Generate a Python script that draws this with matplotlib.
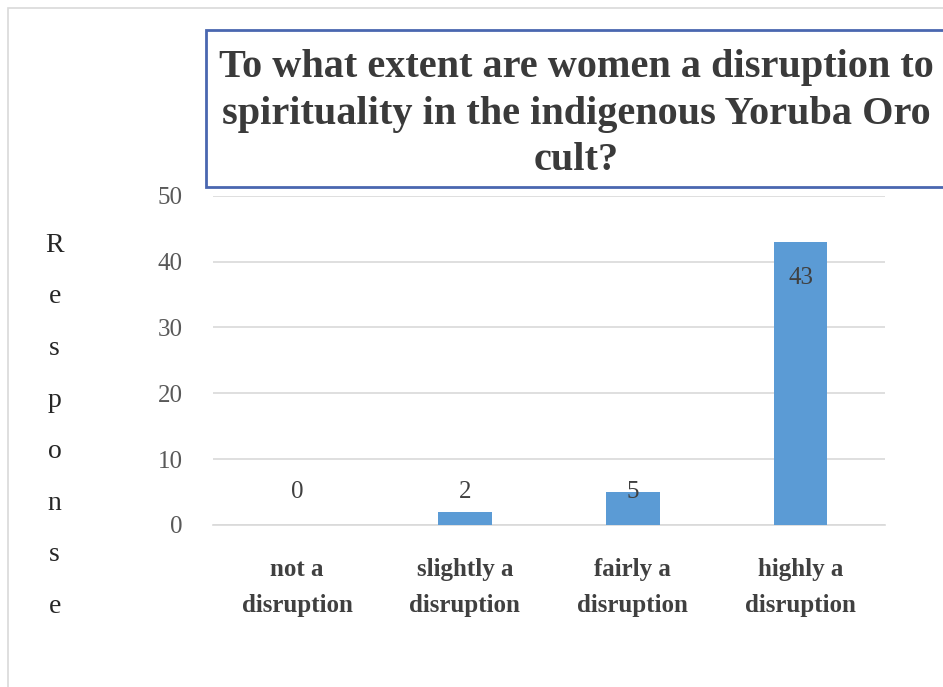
import matplotlib.pyplot as plt
from matplotlib.patches import Rectangle

categories = ["not a\ndisruption", "slightly a\ndisruption", "fairly a\ndisruption", "highly a\ndisruption"]
values = [0, 2, 5, 43]
yticks = [0, 10, 20, 30, 40, 50]
title = "To what extent are women a disruption to\nspirituality in the indigenous Yoruba Oro\ncult?"
ylabel = "Response"

serif = ["Liberation Serif", "DejaVu Serif"]
grey = "#595959"

fig = plt.figure(figsize=(9.43, 6.87), dpi=100)

# light outer frame
fig.patches.append(Rectangle((0.009, -0.02), 1.0, 1.008, transform=fig.transFigure,
                             fill=False, edgecolor="#d9d9d9", linewidth=1.2))

ax = fig.add_axes([0.226, 0.236, 0.712, 0.479])
x = range(len(categories))
ax.bar(x, values, width=0.32, color="#5b9bd5", zorder=3)
ax.set_xlim(-0.5, len(categories) - 0.5)
ax.set_ylim(0, 50)
ax.set_yticks(yticks)
ax.set_yticklabels([str(t) for t in yticks], family=serif, fontsize=18, color=grey)
ax.set_xticks(list(x))
ax.set_xticklabels(categories, family=serif, fontsize=18, fontweight="bold",
                   color="#404040", linespacing=1.72)
ax.tick_params(axis="both", length=0)
ax.tick_params(axis="y", pad=22)
ax.tick_params(axis="x", pad=24)
ax.grid(axis="y", color="#d9d9d9", linewidth=1.2, zorder=0)
for s in ["top", "right", "left"]:
    ax.spines[s].set_visible(False)
ax.spines["bottom"].set_color("#d9d9d9")
ax.spines["bottom"].set_linewidth(1.2)

for i, v in enumerate(values):
    if v > 10:
        ax.text(i, v - 5.5, str(v), ha="center", va="center", family=serif,
                fontsize=18, color="#404040", zorder=4)
    else:
        ax.text(i, 5, str(v), ha="center", va="center", family=serif,
                fontsize=18, color="#404040", zorder=4)

# title box
fig.patches.append(Rectangle((0.218, 0.728), 0.8, 0.228, transform=fig.transFigure,
                             facecolor="white", edgecolor="#4a67b0", linewidth=2, zorder=5))
fig.text(0.611, 0.834, title, ha="center", va="center", family=serif, fontsize=29,
         fontweight="bold", color="#3a3a3a", linespacing=1.35, zorder=6)

# stacked y label
fig.text(0.058, 0.38, "\n".join(ylabel), ha="center", va="center", family=serif,
         fontsize=20, color="#262626", linespacing=2.4)

fig.savefig("out.png", dpi=100)
